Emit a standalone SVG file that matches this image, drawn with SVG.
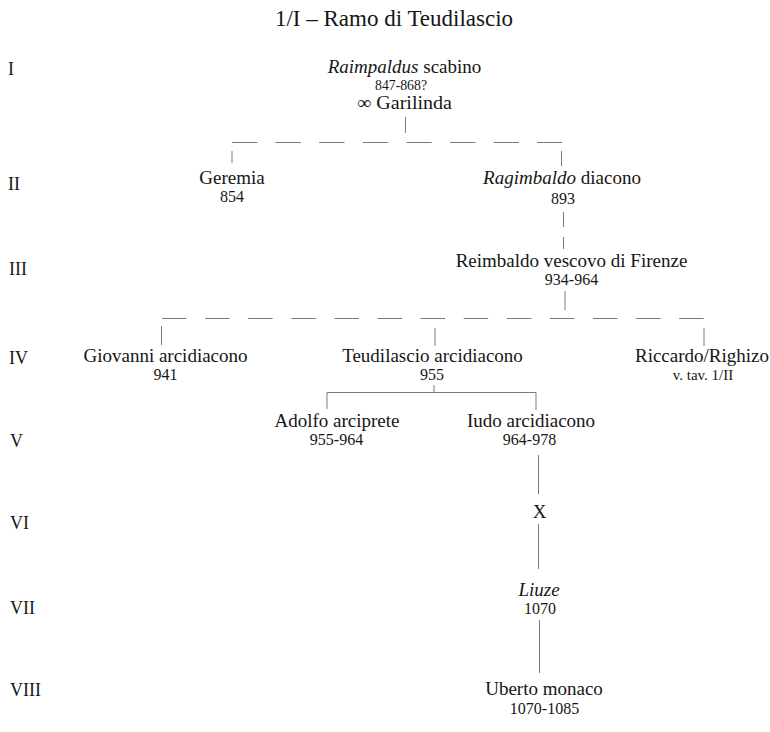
<svg xmlns="http://www.w3.org/2000/svg" width="770" height="732" viewBox="0 0 770 732">
  <style>
    text { font-family: "Liberation Serif", "Times New Roman", serif; fill: #161616; }
    .title { font-size: 23px; }
    .gen { font-size: 18px; }
    .name { font-size: 19px; text-anchor: middle; }
    .date { font-size: 16px; text-anchor: middle; }
    .note { font-size: 15px; text-anchor: middle; }
    .it { font-style: italic; }
    .link { stroke: #7a7a7a; stroke-width: 1; fill: none; }
    .dash { stroke-dasharray: 25.3 18.3; }
    .dash2 { stroke-dasharray: 24.5 18.6; }
  </style>

  <rect width="770" height="732" fill="#ffffff"/>

  <text class="title" x="394" y="26" text-anchor="middle">1/I – Ramo di Teudilascio</text>

  <!-- generation numerals -->
  <g id="generations">
    <text class="gen" x="8" y="75">I</text>
    <text class="gen" x="8" y="190">II</text>
    <text class="gen" x="9" y="275">III</text>
    <text class="gen" x="9" y="364">IV</text>
    <text class="gen" x="10" y="447">V</text>
    <text class="gen" x="10" y="529">VI</text>
    <text class="gen" x="10" y="614">VII</text>
    <text class="gen" x="10" y="696">VIII</text>
  </g>

  <!-- connectors -->
  <g id="connectors" class="link">
    <line x1="405.5" y1="117" x2="405.5" y2="133"/>
    <line class="dash" x1="232" y1="142.5" x2="562" y2="142.5"/>
    <line x1="232" y1="151" x2="232" y2="163"/>
    <line x1="561.5" y1="151" x2="561.5" y2="166"/>
    <line x1="563.5" y1="212" x2="563.5" y2="227"/>
    <line x1="563.5" y1="237" x2="563.5" y2="249"/>
    <line x1="565" y1="291" x2="565" y2="310"/>
    <line class="dash2" x1="162" y1="318.5" x2="705" y2="318.5"/>
    <line x1="161.5" y1="326" x2="161.5" y2="345"/>
    <line x1="435" y1="328" x2="435" y2="346"/>
    <line x1="704" y1="328" x2="704" y2="346"/>
    <line x1="434" y1="385" x2="434" y2="392.5"/>
    <polyline points="327,409 327,392.5 536,392.5 536,410"/>
    <line x1="538.5" y1="455" x2="538.5" y2="494"/>
    <line x1="538.5" y1="524" x2="538.5" y2="569"/>
    <line x1="539.5" y1="620" x2="539.5" y2="673"/>
  </g>

  <g id="raimpaldus">
    <text class="name" x="404.5" y="73"><tspan class="it">Raimpaldus</tspan> scabino</text>
    <text class="date" x="401" y="90" textLength="52" lengthAdjust="spacingAndGlyphs" style="font-size:14px">847-868?</text>
    <text class="name" x="404.5" y="109" textLength="95" lengthAdjust="spacingAndGlyphs">∞ Garilinda</text>
  </g>

  <g id="geremia">
    <text class="name" x="232" y="184">Geremia</text>
    <text class="date" x="232" y="202">854</text>
  </g>

  <g id="ragimbaldo">
    <text class="name" x="562" y="184"><tspan class="it">Ragimbaldo</tspan> diacono</text>
    <text class="date" x="563" y="204">893</text>
  </g>

  <g id="reimbaldo">
    <text class="name" x="571.5" y="267">Reimbaldo vescovo di Firenze</text>
    <text class="date" x="571.5" y="285">934-964</text>
  </g>

  <g id="giovanni">
    <text class="name" x="165.5" y="362">Giovanni arcidiacono</text>
    <text class="date" x="165.5" y="380">941</text>
  </g>

  <g id="teudilascio">
    <text class="name" x="432.5" y="362">Teudilascio arcidiacono</text>
    <text class="date" x="432" y="380">955</text>
  </g>

  <g id="riccardo">
    <text class="name" x="702" y="362">Riccardo/Righizo</text>
    <text class="note" x="703" y="380">v. tav. 1/II</text>
  </g>

  <g id="adolfo">
    <text class="name" x="337" y="427">Adolfo arciprete</text>
    <text class="date" x="336.5" y="445">955-964</text>
  </g>

  <g id="iudo">
    <text class="name" x="531" y="427">Iudo arcidiacono</text>
    <text class="date" x="529.5" y="445">964-978</text>
  </g>

  <g id="x">
    <text class="name" x="539.5" y="518">X</text>
  </g>

  <g id="liuze">
    <text class="name it" x="539" y="596">Liuze</text>
    <text class="date" x="540" y="614">1070</text>
  </g>

  <g id="uberto">
    <text class="name" x="544" y="695">Uberto monaco</text>
    <text class="date" x="544.5" y="714">1070-1085</text>
  </g>
</svg>
